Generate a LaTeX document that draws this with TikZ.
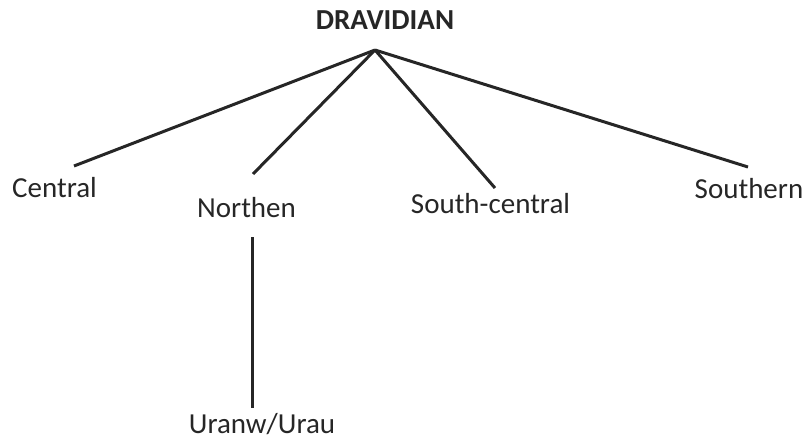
\documentclass[tikz,border=0pt]{standalone}
\usepackage{fontspec}
\setmainfont{Carlito}
\newcommand\langcol{black!85}
\newcommand\linewd{3pt}

\begin{document}
\begin{tikzpicture}[
x=1pt,y=-1pt,
lang/.style={anchor=base,inner sep=0pt,text=\langcol,font=\fontsize{29}{34}\selectfont},
root/.style={lang,font=\fontsize{29}{34}\selectfont\bfseries},
branch/.style={draw=\langcol,line width=\linewd}
]
\useasboundingbox (0,0) rectangle (809,439);
% family name
\node[root] (dravidian) at (385,29) {DRAVIDIAN};
\coordinate (apex) at (375,50);
% subgroups
\node[lang] (central) at (54.5,197) {Central};
\node[lang] (northen) at (246.5,217) {Northen};
\node[lang] (southcentral) at (490.5,213) {South-central};
\node[lang] (southern) at (749,198) {Southern};
\node[lang] (uranw) at (262,433) {Uranw/Urau};
% ends of the branches
\coordinate (central-end) at (74,166);
\coordinate (northen-end) at (253,174);
\coordinate (southcentral-end) at (495,188);
\coordinate (southern-end) at (748,167);
\coordinate (northen-low) at (252,237);
\coordinate (uranw-top) at (252,408);
\foreach \b in {central,northen,southcentral,southern}
{
\draw[branch] (apex) -- (\b-end);
}
\draw[branch] (northen-low) -- (uranw-top);
\end{tikzpicture}
\end{document}
